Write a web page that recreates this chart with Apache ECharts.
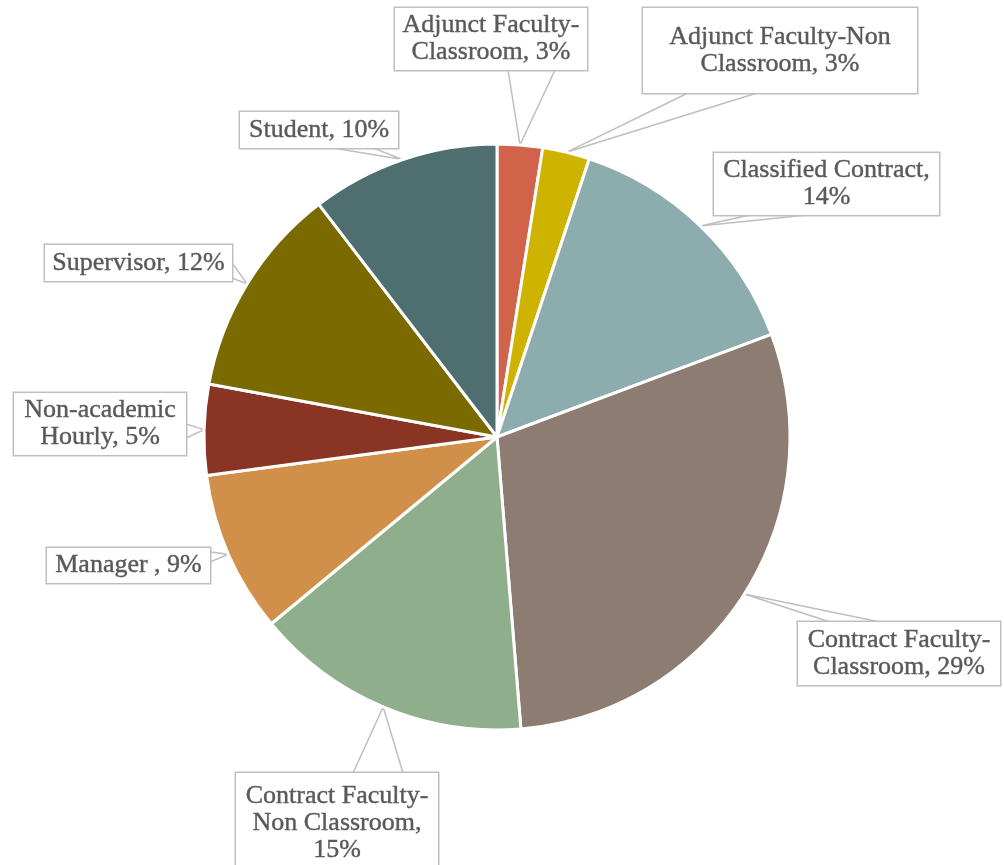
<!DOCTYPE html>
<html><head><meta charset="utf-8">
<script src="https://cdn.jsdelivr.net/npm/echarts@6/dist/echarts.min.js"></script>
<style>html,body{margin:0;padding:0;background:#fff}#c{width:1004px;height:865px}</style>
</head><body><div id="c"></div>
<script>
// ---- data ----
const categories = ["Adjunct Faculty-Classroom", "Adjunct Faculty-Non Classroom", "Classified Contract", "Contract Faculty-Classroom", "Contract Faculty-Non Classroom", "Manager ", "Non-academic Hourly", "Supervisor", "Student"];
const values = [2.5, 2.6, 14.2, 29.4, 15.3, 8.9, 5.0, 11.7, 10.4];
// label text pieces (line breaks as shown in the picture)
const labelHeads = ["Adjunct Faculty-\nClassroom", "Adjunct Faculty-Non\nClassroom", "Classified Contract", "Contract Faculty-\nClassroom", "Contract Faculty-\nNon Classroom", "Manager ", "Non-academic\nHourly", "Supervisor", "Student"];
const labelSeps = [", ", ", ", ",\n", ", ", ",\n", ", ", ", ", ", ", ", "];

// ---- styles / layout ----
const colors = ["#D1634B", "#CEB400", "#8CACAD", "#8C7C71", "#8FAF8C", "#D09049", "#8A3423", "#7A6A00", "#4F6E6F"];
// label box centre x, centre y, width, height
const boxes = [[491, 39, 192, 62], [780, 50.5, 274, 85], [826.5, 184, 225, 62], [899, 653.5, 202, 63], [337, 823.5, 202, 101], [128.5, 565.5, 163, 35], [100, 424, 172, 62], [138.5, 263, 187, 36], [319, 130, 158, 36]];
// callout wedge: side of box, start and end offset along that side
const wedges = [["bottom", 113, 160], ["bottom", 45, 114], ["bottom", 36, 93], ["top", 32, 82], ["top", 117, 167], ["right", 4, 14], ["right", 31, 45], ["right", 18, 33], ["bottom", 93, 133]];
const LINE_H = 27;
const TEXT_SHIFT = 2;
const CENTER = [497, 437], RADIUS = 293;

function labelText(i) {
  return labelHeads[i] + labelSeps[i] + Math.round(values[i]) + "%";
}

const total = values.reduce((a, b) => a + b, 0);
function tipPoint(i) {
  let cum = 0;
  for (let k = 0; k < i; k++) cum += values[k];
  const mid = (cum + values[i] / 2) / total * Math.PI * 2;
  return [CENTER[0] + RADIUS * Math.sin(mid), CENTER[1] - RADIUS * Math.cos(mid)];
}

const data = categories.map((name, i) => {
  const nLines = labelText(i).split("\n").length;
  const padV = (boxes[i][3] - nLines * LINE_H) / 2;
  return {
    name: name,
    value: values[i],
    itemStyle: { color: colors[i] },
    label: { width: boxes[i][2], padding: [padV + TEXT_SHIFT, 0, padV - TEXT_SHIFT, 0] }
  };
});

const chart = echarts.init(document.getElementById('c'), null, { renderer: 'canvas' });
chart.setOption({
  backgroundColor: '#ffffff',
  animation: false,
  series: [{
    type: 'pie',
    center: CENTER,
    radius: RADIUS,
    startAngle: 90,
    clockwise: true,
    avoidLabelOverlap: false,
    data: data,
    itemStyle: { borderColor: '#ffffff', borderWidth: 3 },
    label: {
      show: true,
      position: 'outside',
      formatter: p => labelText(p.dataIndex),
      fontFamily: 'Liberation Serif',
      fontSize: 26,
      lineHeight: LINE_H,
      color: '#595959',
      textBorderColor: '#595959',
      textBorderWidth: 0.4,
      align: 'center',
      backgroundColor: '#ffffff',
      borderColor: '#BFBFBF',
      borderWidth: 1.5
    },
    labelLine: {
      show: true,
      length: 10,
      length2: 10,
      lineStyle: { color: '#BFBFBF', width: 1.5 }
    },
    labelLayout: function (params) {
      const i = params.dataIndex;
      const [cx, cy, w, h] = boxes[i];
      const left = cx - w / 2, top = cy - h / 2;
      const tip = (params.labelLinePoints && params.labelLinePoints[0]) || tipPoint(i);
      const [side, a, b] = wedges[i];
      let p1, p2;
      if (side === 'bottom') { p1 = [left + a, top + h]; p2 = [left + b, top + h]; }
      else if (side === 'top') { p1 = [left + a, top]; p2 = [left + b, top]; }
      else if (side === 'right') { p1 = [left + w, top + a]; p2 = [left + w, top + b]; }
      else { p1 = [left, top + a]; p2 = [left, top + b]; }
      return {
        x: cx, y: cy,
        align: 'center', verticalAlign: 'middle',
        labelLinePoints: [p1, tip, p2]
      };
    }
  }]
});
</script>
</body></html>
